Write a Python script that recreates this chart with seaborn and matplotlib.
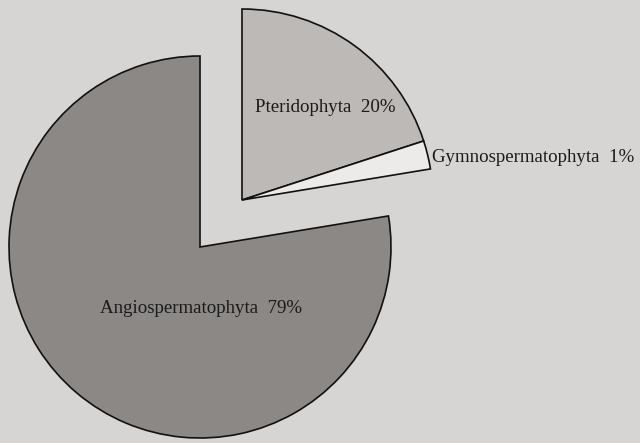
import matplotlib
matplotlib.use('Agg')
import matplotlib.pyplot as plt
import seaborn as sns

# plant groups, in the order they are drawn (clockwise from 12 o'clock)
groups = ['Pteridophyta', 'Gymnospermatophyta', 'Angiospermatophyta']
percent = [20, 1, 79]
# wedge shares as they are drawn in the printed figure (the 1% slice is drawn wider)
drawn_share = [20, 2.4, 77.6]
fills = ['#bcb9b6', '#ecebea', '#8c8886']

sns.set_theme(style='white')
plt.rcParams['font.family'] = ['Liberation Serif', 'DejaVu Serif']

bg = '#d6d5d3'
fig = plt.figure(figsize=(6.4, 4.43), dpi=100)
fig.patch.set_facecolor(bg)
ax = fig.add_axes([0, 0, 1, 1])
ax.set_facecolor(bg)

r = 191
# main disc and the pulled-out part use the same angles, only the centre moves
for centre, keep in [((200, 196), {2}), ((242, 243), {0, 1})]:
    wedges, _ = ax.pie(drawn_share, colors=fills, startangle=90, counterclock=False,
                       radius=r, center=centre,
                       wedgeprops=dict(edgecolor='#111111', linewidth=1.2))
    for i, w in enumerate(wedges):
        w.set_visible(i in keep)

# labels
txt = dict(fontsize=13.6, color='#1a1a1a', ha='left', va='baseline')
ax.text(255, 331, f'{groups[0]}  {percent[0]}%', **txt)
ax.text(432, 281, f'{groups[1]}  {percent[1]}%', **txt)
ax.text(100, 130, f'{groups[2]}  {percent[2]}%', **txt)

ax.set_xlim(0, 640)
ax.set_ylim(0, 443)
ax.set_aspect('equal')
ax.axis('off')

fig.savefig('out.png', dpi=100, facecolor=bg)
